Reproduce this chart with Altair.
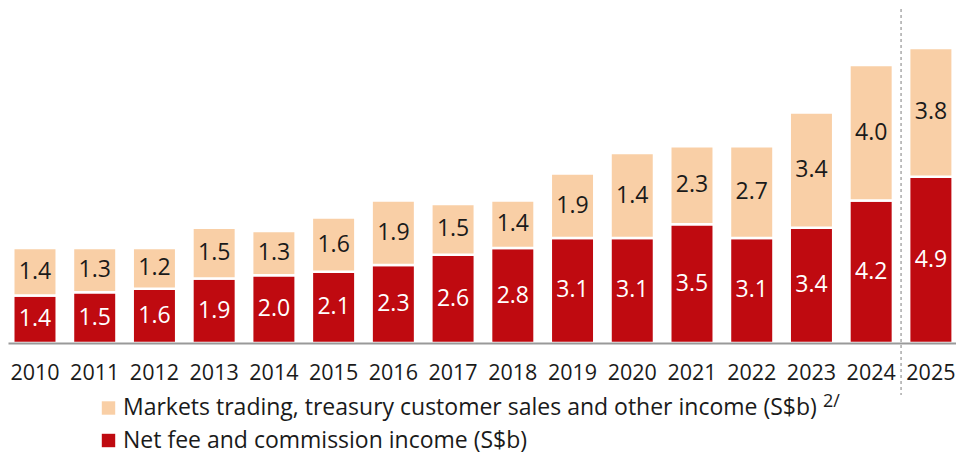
import altair as alt
import pandas as pd

years = [str(y) for y in range(2010, 2026)]
fee = [1.4, 1.5, 1.6, 1.9, 2.0, 2.1, 2.3, 2.6, 2.8, 3.1, 3.1, 3.5, 3.1, 3.4, 4.2, 4.9]
# bar heights as drawn in the picture (2020's segment is drawn taller than its printed label)
markets = [1.4, 1.3, 1.2, 1.5, 1.3, 1.6, 1.9, 1.5, 1.4, 1.9, 2.5, 2.3, 2.7, 3.4, 4.0, 3.8]
# values as printed on the bars
fee_labels_txt = ["1.4", "1.5", "1.6", "1.9", "2.0", "2.1", "2.3", "2.6", "2.8", "3.1", "3.1", "3.5", "3.1", "3.4", "4.2", "4.9"]
markets_labels_txt = ["1.4", "1.3", "1.2", "1.5", "1.3", "1.6", "1.9", "1.5", "1.4", "1.9", "1.4", "2.3", "2.7", "3.4", "4.0", "3.8"]
series_names = [
    "Markets trading, treasury customer sales and other income (S$b)",
    "Net fee and commission income (S$b)",
]
colors = ["#F9CFA6", "#BF0A10"]
footnote = "2/"

rows = []
for i, (y, f, m) in enumerate(zip(years, fee, markets)):
    rows.append(dict(year=y, series=series_names[1], start=0.0, end=f, kind="fee", label=fee_labels_txt[i]))
    rows.append(dict(year=y, series=series_names[0], start=f, end=f + m, kind="mkt", label=markets_labels_txt[i]))
df = pd.DataFrame(rows)
df["mid"] = (df["start"] + df["end"]) / 2

FONT = "Open Sans"

x_enc = alt.X(
    "year:N",
    sort=years,
    scale=alt.Scale(paddingInner=0.272, paddingOuter=0.072, align=0.61),
    axis=alt.Axis(
        title=None, labelAngle=0, ticks=False, domainColor="#999999", domainWidth=2,
        labelFontSize=21.5, labelPadding=19, labelColor="#1a1a1a", labelFont=FONT, zindex=1,
    ),
)
y_scale = alt.Scale(domain=[0, 9.88], nice=False, zero=True)

base = alt.Chart(df)

bars = base.mark_bar(stroke="white", strokeWidth=2.5).encode(
    x=x_enc,
    y=alt.Y("start:Q", scale=y_scale, axis=None),
    y2="end:Q",
    color=alt.Color(
        "series:N",
        scale=alt.Scale(domain=series_names, range=colors),
        legend=alt.Legend(
            title=None, orient="none", legendX=89, legendY=388.5, symbolType="square",
            symbolSize=180, symbolStrokeWidth=0, labelFontSize=23, labelFont=FONT,
            labelColor="#1a1a1a", rowPadding=8.5, labelOffset=3, padding=0, labelLimit=0,
        ),
    ),
)

fee_labels = base.transform_filter(alt.datum.kind == "fee").mark_text(
    fontSize=23, font=FONT, color="white"
).encode(x=x_enc, y=alt.Y("mid:Q", scale=y_scale, axis=None), text="label:N")

mkt_labels = base.transform_filter(alt.datum.kind == "mkt").mark_text(
    fontSize=23, font=FONT, color="#1a1a1a"
).encode(x=x_enc, y=alt.Y("mid:Q", scale=y_scale, axis=None), text="label:N")

sep = alt.Chart(pd.DataFrame({"year": [years[-1]]})).mark_rule(
    strokeDash=[3, 3], color="#aaaaaa", strokeWidth=1.5, xOffset=-8.1
).encode(x=alt.X("year:N", bandPosition=0), y=alt.value(1), y2=alt.value(387))

sup = alt.Chart(pd.DataFrame({"t": [footnote]})).mark_text(
    fontSize=18, align="left", font=FONT, color="#1a1a1a"
).encode(x=alt.value(815), y=alt.value(394), text="t:N")

chart = alt.layer(bars, fee_labels, mkt_labels, sep, sup).properties(
    width=948, height=335,
    autosize=alt.AutoSizeParams(type="none"),
    padding={"left": 0, "top": 0, "right": 0, "bottom": 113},
).configure_view(stroke=None)

chart.save("out.html", embed_options={"renderer": "svg", "actions": False})
